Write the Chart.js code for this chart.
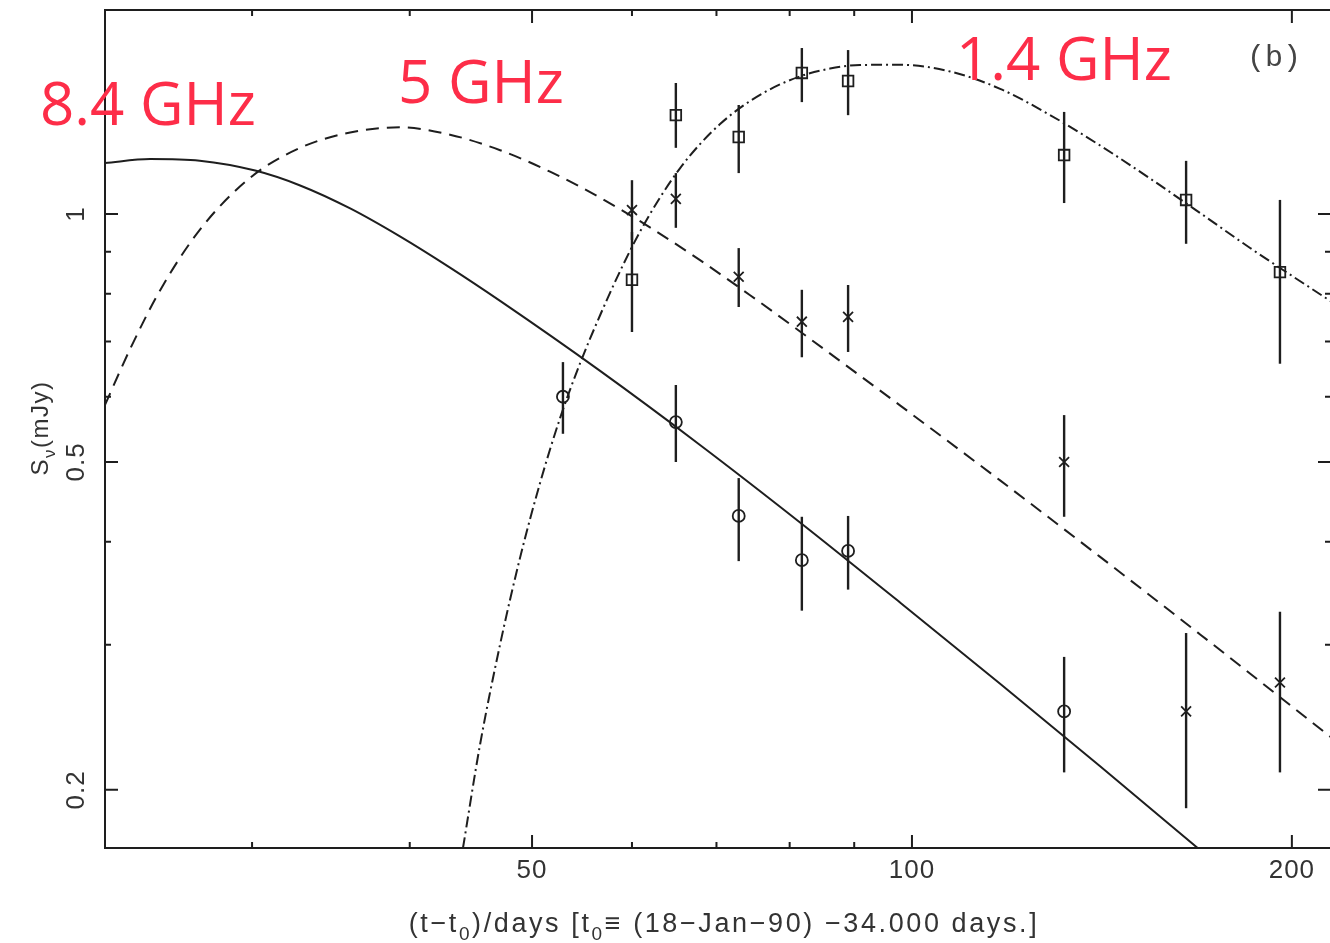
<!DOCTYPE html>
<html>
<head>
<meta charset="utf-8">
<script src="https://cdn.jsdelivr.net/npm/chart.js@4.4.1/dist/chart.umd.min.js"></script>
<style>
  html, body { margin: 0; padding: 0; background: #fff; overflow: hidden; width: 1330px; height: 943px; }
  canvas { display: block; }
</style>
</head>
<body>
<canvas id="lc" width="1334" height="943"></canvas>
<script>
// ---- measured flux densities (mJy) vs. days since t0 ----
const days84 = [52.9, 65.0, 72.9, 81.8, 89.0, 132.0];
const flux84 = [0.600, 0.559, 0.430, 0.380, 0.390, 0.249];
const hi84   = [0.661, 0.620, 0.478, 0.429, 0.430, 0.290];
const lo84   = [0.541, 0.500, 0.379, 0.330, 0.350, 0.210];

const days50 = [60.0, 65.0, 72.9, 81.8, 89.0, 132.0, 164.9, 195.7];
const flux50 = [1.011, 1.043, 0.839, 0.740, 0.750, 0.500, 0.249, 0.270];
const hi50   = [1.099, 1.121, 0.909, 0.809, 0.820, 0.570, 0.310, 0.329];
const lo50   = [0.930, 0.962, 0.771, 0.670, 0.680, 0.429, 0.190, 0.210];

const days14 = [60.0, 65.0, 72.9, 81.8, 89.0, 132.0, 164.9, 195.7];
const flux14 = [0.832, 1.318, 1.240, 1.483, 1.450, 1.179, 1.040, 0.850];
const hi14   = [0.951, 1.442, 1.356, 1.590, 1.581, 1.330, 1.160, 1.040];
const lo14   = [0.719, 1.203, 1.121, 1.367, 1.318, 1.031, 0.920, 0.658];

// ---- model light curves ----
const fitDays84 = [22.94, 24.91, 27.27, 30.17, 32.75, 35.88, 39.29, 43.05, 47.17, 56.61, 67.93, 81.53, 97.84, 117.45, 140.96, 169.5];
const fitFlux84 = [1.153, 1.166, 1.1605, 1.1289, 1.0829, 1.0155, 0.9391, 0.8606, 0.7842, 0.6449, 0.5244, 0.4223, 0.3377, 0.2690, 0.2136, 0.1686];

const fitDays50 = [22.94, 24.01, 25.35, 27.27, 29.89, 32.75, 35.88, 39.29, 43.05, 47.17, 51.67, 56.61, 62.00, 67.93, 74.43, 81.53, 97.84, 117.45, 140.96, 169.17, 216.4];
const fitFlux50 = [0.5865, 0.6851, 0.8065, 0.9565, 1.1062, 1.2028, 1.2560, 1.2738, 1.2480, 1.1951, 1.1254, 1.0466, 0.9632, 0.8788, 0.7969, 0.7200, 0.5857, 0.4749, 0.3835, 0.3088, 0.2296];

const fitDays14 = [44.08, 45.48, 47.17, 48.91, 50.73, 52.62, 54.58, 56.61, 58.71, 60.88, 63.16, 65.49, 67.93, 70.46, 73.08, 77.19, 81.53, 86.12, 90.96, 97.84, 107.2, 117.45, 128.65, 140.96, 154.41, 169.17, 185.33, 216.4];
const fitFlux14 = [0.1700, 0.2272, 0.3004, 0.3822, 0.4712, 0.5651, 0.6589, 0.7535, 0.8522, 0.9515, 1.0472, 1.1360, 1.2157, 1.2856, 1.3451, 1.4167, 1.4689, 1.5013, 1.5165, 1.5173, 1.4890, 1.4187, 1.3185, 1.2108, 1.1042, 1.0027, 0.9093, 0.7773];

// ---- axes ----
const xRange = [22.94, 214.8];
const yRange = [0.1700, 1.7683];
const xMajor = [50, 100, 200];
const xMinor = [30, 40, 60, 70, 80, 90];
const yMajor = [0.2, 0.5, 1];
const yMinor = [0.3, 0.4, 0.6, 0.7, 0.8, 0.9];
const xLabels = ['50', '100', '200'];
const yLabels = ['0.2', '0.5', '1'];
const bandNames = ['8.4 GHz', '5 GHz', '1.4 GHz'];
const panelTag = '(b)';

const ink = '#1e1e1e';
const labelInk = '#333';
const bandInk = '#fd2d48';
const sans = '"Liberation Sans", Arial, sans-serif';

function pairs(xs, ys) { return xs.map((x, i) => ({ x: x, y: ys[i] })); }

const errorSets = [
  { days: days84, hi: hi84, lo: lo84 },
  { days: days50, hi: hi50, lo: lo50 },
  { days: days14, hi: hi14, lo: lo14 }
];

// vertical error bars, placed through the chart scales
const errorBars = {
  id: 'errorBars',
  beforeDatasetsDraw(chart) {
    const ctx = chart.ctx, xs = chart.scales.x, ys = chart.scales.y;
    ctx.save();
    ctx.strokeStyle = ink;
    ctx.lineWidth = 2.4;
    errorSets.forEach(s => {
      s.days.forEach((d, i) => {
        const px = xs.getPixelForValue(d);
        ctx.beginPath();
        ctx.moveTo(px, ys.getPixelForValue(s.hi[i]));
        ctx.lineTo(px, ys.getPixelForValue(s.lo[i]));
        ctx.stroke();
      });
    });
    ctx.restore();
  }
};

// text made of plain and subscript pieces
function setRunFont(ctx, r, size) {
  ctx.font = (r.sub ? Math.round(size * 0.7) : size) + 'px ' + sans;
}
function runsWidth(ctx, runs, size) {
  let w = 0;
  runs.forEach(r => { setRunFont(ctx, r, size); w += ctx.measureText(r.t).width; });
  return w;
}
function drawRuns(ctx, runs, x, y, size) {
  let cx = x;
  runs.forEach(r => {
    setRunFont(ctx, r, size);
    ctx.fillText(r.t, cx, r.sub ? y + size * 0.28 : y);
    cx += ctx.measureText(r.t).width;
  });
}

// box with inward ticks on all four sides, labels and annotations
const frameBox = {
  id: 'frameBox',
  afterDraw(chart) {
    const ctx = chart.ctx, a = chart.chartArea, xs = chart.scales.x, ys = chart.scales.y;
    const majLen = 13, minLen = 6;
    ctx.save();
    ctx.strokeStyle = ink;
    ctx.lineWidth = 2;
    ctx.strokeRect(a.left, a.top, a.right - a.left, a.bottom - a.top);
    ctx.beginPath();
    const xt = (v, len) => {
      const p = xs.getPixelForValue(v);
      ctx.moveTo(p, a.bottom); ctx.lineTo(p, a.bottom - len);
      ctx.moveTo(p, a.top); ctx.lineTo(p, a.top + len);
    };
    const yt = (v, len) => {
      const p = ys.getPixelForValue(v);
      ctx.moveTo(a.left, p); ctx.lineTo(a.left + len, p);
      ctx.moveTo(a.right, p); ctx.lineTo(a.right - len, p);
    };
    xMajor.forEach(v => xt(v, majLen));
    xMinor.forEach(v => xt(v, minLen));
    yMajor.forEach(v => yt(v, majLen));
    yMinor.forEach(v => yt(v, minLen));
    ctx.stroke();

    // tick labels
    ctx.fillStyle = labelInk;
    ctx.font = '26px ' + sans;
    ctx.letterSpacing = '1px';
    ctx.textAlign = 'center';
    ctx.textBaseline = 'middle';
    xMajor.forEach((v, i) => ctx.fillText(xLabels[i], xs.getPixelForValue(v), a.bottom + 23));
    yMajor.forEach((v, i) => {
      ctx.save();
      ctx.translate(a.left - 28, ys.getPixelForValue(v));
      ctx.rotate(-Math.PI / 2);
      ctx.fillText(yLabels[i], 0, 0);
      ctx.restore();
    });

    // axis titles
    ctx.textAlign = 'left';
    ctx.textBaseline = 'alphabetic';
    ctx.letterSpacing = '2.6px';
    const xTitle = [
      { t: '(t\u2212t' }, { t: '0', sub: true }, { t: ')/days [t' }, { t: '0', sub: true },
      { t: '\u2261 (18\u2212Jan\u221290) \u221234.000 days.]' }
    ];
    const xw = runsWidth(ctx, xTitle, 27);
    drawRuns(ctx, xTitle, 724 - xw / 2, a.bottom + 84, 27);

    ctx.letterSpacing = '1.5px';
    const yTitle = [{ t: 'S' }, { t: '\u03bd', sub: true }, { t: '(mJy)' }];
    ctx.save();
    ctx.translate(a.left - 57, 428);
    ctx.rotate(-Math.PI / 2);
    const yw = runsWidth(ctx, yTitle, 24);
    drawRuns(ctx, yTitle, -yw / 2, 0, 24);
    ctx.restore();
    ctx.letterSpacing = '0px';

    // panel tag
    ctx.fillStyle = '#444';
    ctx.font = '30px "Liberation Mono", "DejaVu Sans Mono", monospace';
    ctx.textBaseline = 'middle';
    ctx.fillText(panelTag, 1247, 58);

    // band names
    ctx.fillStyle = bandInk;
    ctx.font = '60px "Open Sans", "DejaVu Sans", sans-serif';
    ctx.textBaseline = 'alphabetic';
    ctx.fillText(bandNames[0], 40, 125);
    ctx.fillText(bandNames[1], 398, 103);
    ctx.fillText(bandNames[2], 956, 80);
    ctx.restore();
  }
};

const curveStyle = {
  showLine: true, pointRadius: 0, borderColor: ink, borderWidth: 2,
  cubicInterpolationMode: 'monotone', fill: false
};
const markStyle = {
  showLine: false, borderColor: ink, backgroundColor: 'rgba(0,0,0,0)', borderWidth: 1.8
};

new Chart(document.getElementById('lc'), {
  type: 'scatter',
  data: {
    datasets: [
      Object.assign({ label: '8.4 GHz model', data: pairs(fitDays84, fitFlux84) }, curveStyle),
      Object.assign({ label: '5 GHz model', data: pairs(fitDays50, fitFlux50), borderDash: [13, 8] }, curveStyle),
      Object.assign({ label: '1.4 GHz model', data: pairs(fitDays14, fitFlux14), borderDash: [11, 4, 2, 4] }, curveStyle),
      Object.assign({ label: '8.4 GHz', data: pairs(days84, flux84), pointStyle: 'circle', pointRadius: 6 }, markStyle),
      Object.assign({ label: '5 GHz', data: pairs(days50, flux50), pointStyle: 'crossRot', pointRadius: 7, borderWidth: 2.2 }, markStyle),
      Object.assign({ label: '1.4 GHz', data: pairs(days14, flux14), pointStyle: 'rect', pointRadius: 7.5 }, markStyle)
    ]
  },
  options: {
    responsive: false,
    animation: false,
    events: [],
    layout: { autoPadding: false, padding: { left: 105, right: 3, top: 10, bottom: 95 } },
    plugins: { legend: { display: false }, tooltip: { enabled: false } },
    scales: {
      x: { type: 'logarithmic', min: xRange[0], max: xRange[1], display: false },
      y: { type: 'logarithmic', min: yRange[0], max: yRange[1], display: false }
    }
  },
  plugins: [errorBars, frameBox]
});
</script>
</body>
</html>
